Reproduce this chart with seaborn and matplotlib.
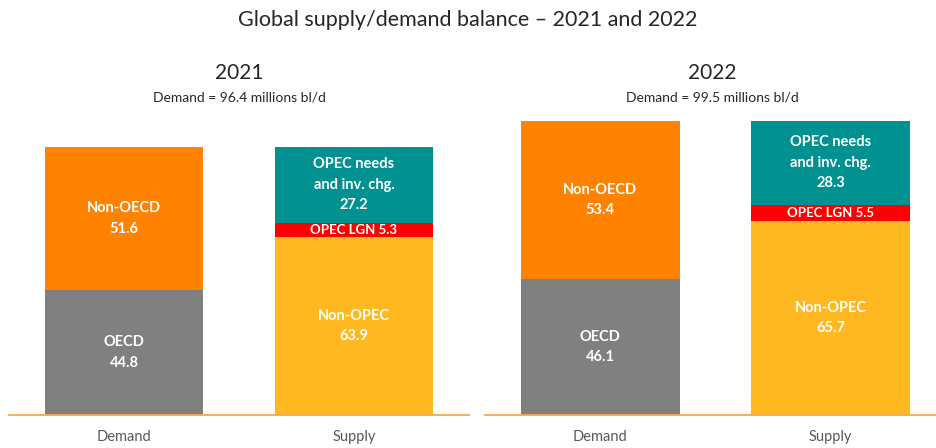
import pandas as pd
import matplotlib.pyplot as plt
import seaborn as sns

# données (millions bl/d)
years = ["2021", "2022"]
demand_totals = [96.4, 99.5]
oecd = [44.8, 46.1]
non_oecd = [51.6, 53.4]
non_opec = [63.9, 65.7]
opec_lgn = [5.3, 5.5]
opec_needs = [27.2, 28.3]
categories = ["Demand", "Supply"]

c_gray = "#808080"
c_orange = "#FF8200"
c_yellow = "#FFB81F"
c_red = "#FF0000"
c_teal = "#009190"
c_base = "#F8A848"

sns.set_theme(style="white")
plt.rcParams["font.family"] = ["Lato", "DejaVu Sans"]

fig = plt.figure(figsize=(9.36, 4.48), dpi=100)

# positions des deux panneaux (fraction de la figure)
bottom = 33 / 448
height = 305 / 448
panels = [
    {"rect": [9 / 936, bottom, 460 / 936, height], "xlim": (-0.5, 1.5), "ymax": 109.7},
    {"rect": [485 / 936, bottom, 451 / 936, height], "xlim": (-0.5, 1.457), "ymax": 103.2},
]

for i, p in enumerate(panels):
    ax = fig.add_axes(p["rect"])

    # empilement : on trace les cumuls du plus haut au plus bas
    top = pd.DataFrame({"cat": categories,
                        "val": [oecd[i] + non_oecd[i], non_opec[i] + opec_lgn[i] + opec_needs[i]]})
    mid = pd.DataFrame({"cat": categories,
                        "val": [oecd[i], non_opec[i] + opec_lgn[i]]})
    low = pd.DataFrame({"cat": ["Supply"], "val": [non_opec[i]]})

    sns.barplot(data=top, x="cat", y="val", hue="cat", order=categories,
                palette={"Demand": c_orange, "Supply": c_teal}, dodge=False,
                width=0.69, legend=False, saturation=1, linewidth=0, ax=ax)
    sns.barplot(data=mid, x="cat", y="val", hue="cat", order=categories,
                palette={"Demand": c_gray, "Supply": c_red}, dodge=False,
                width=0.69, legend=False, saturation=1, linewidth=0, ax=ax)
    sns.barplot(data=low, x="cat", y="val", order=categories, color=c_yellow,
                width=0.69, saturation=1, linewidth=0, ax=ax)

    # étiquettes au centre des segments
    lab = dict(ha="center", va="center", color="white", fontweight="bold",
               fontsize=10.5, linespacing=1.6)
    ax.text(0, oecd[i] / 2, f"OECD\n{oecd[i]}", **lab)
    ax.text(0, oecd[i] + non_oecd[i] / 2, f"Non-OECD\n{non_oecd[i]}", **lab)
    ax.text(1, non_opec[i] / 2, f"Non-OPEC\n{non_opec[i]}", **lab)
    ax.text(1, non_opec[i] + opec_lgn[i] / 2, f"OPEC LGN {opec_lgn[i]}",
            ha="center", va="center", color="white", fontweight="bold", fontsize=9.5)
    ax.text(1, non_opec[i] + opec_lgn[i] + opec_needs[i] / 2,
            f"OPEC needs\nand inv. chg.\n{opec_needs[i]}", **lab)

    ax.set_xlim(*p["xlim"])
    ax.set_ylim(0, p["ymax"])
    ax.set_xlabel("")
    ax.set_ylabel("")
    ax.set_yticks([])
    ax.tick_params(axis="x", length=0, pad=11, labelsize=10.5, labelcolor="#595959")
    for s in ["top", "left", "right"]:
        ax.spines[s].set_visible(False)
    ax.spines["bottom"].set_color(c_base)
    ax.spines["bottom"].set_linewidth(1.3)

    cx = p["rect"][0] + p["rect"][2] / 2 if i == 0 else 712 / 936
    fig.text(cx, 1 - 73 / 448, years[i], ha="center", va="center", fontsize=15)
    fig.text(cx, 1 - 97 / 448, f"Demand = {demand_totals[i]} millions bl/d",
             ha="center", va="center", fontsize=10)

fig.text(0.5, 1 - 20 / 448, "Global supply/demand balance – 2021 and 2022",
         ha="center", va="center", fontsize=15.5)

plt.savefig("out.png", dpi=100)
